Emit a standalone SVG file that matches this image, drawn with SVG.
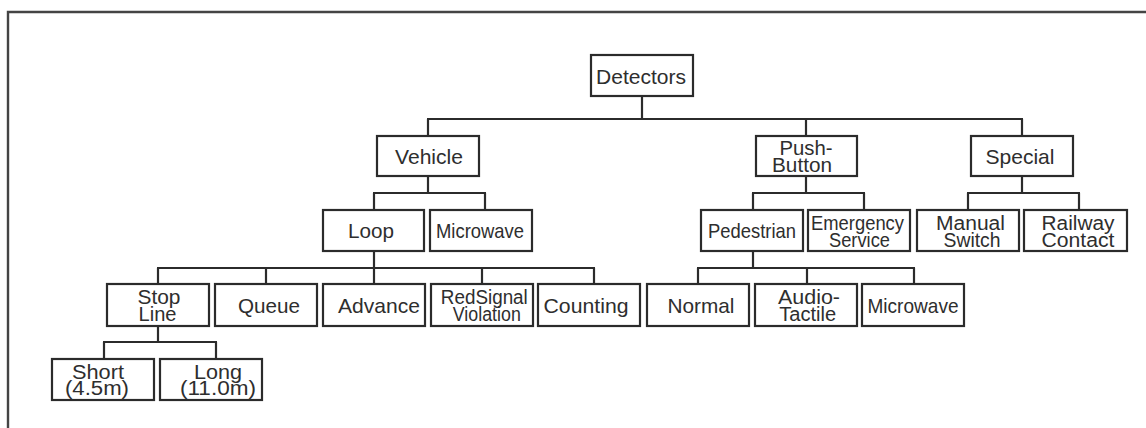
<svg xmlns="http://www.w3.org/2000/svg" width="1146" height="428" viewBox="0 0 1146 428">
<style>
.b{fill:#fff;stroke:#2b2b2b;stroke-width:2.2}
.c line{stroke:#2b2b2b;stroke-width:2.2}
text{font-family:"Liberation Sans",Arial,sans-serif;font-size:21px;fill:#2e2e2e;text-anchor:middle}
text.t{font-size:20px}
</style>
<rect width="1146" height="428" fill="#fff"/>
<path d="M8 428 V12 H1146" fill="none" stroke="#444" stroke-width="2.4"/>
<g id="connectors" class="c">
<line x1="642" y1="96" x2="642" y2="119"/>
<line x1="427" y1="119" x2="1023" y2="119"/>
<line x1="428" y1="119" x2="428" y2="136"/>
<line x1="806" y1="119" x2="806" y2="136"/>
<line x1="1022" y1="119" x2="1022" y2="136"/>
<line x1="428" y1="176" x2="428" y2="193"/>
<line x1="373" y1="193" x2="486" y2="193"/>
<line x1="374" y1="193" x2="374" y2="210"/>
<line x1="485" y1="193" x2="485" y2="210"/>
<line x1="806" y1="176" x2="806" y2="193"/>
<line x1="752" y1="193" x2="865" y2="193"/>
<line x1="753" y1="193" x2="753" y2="210"/>
<line x1="864" y1="193" x2="864" y2="210"/>
<line x1="1022" y1="176" x2="1022" y2="193"/>
<line x1="967" y1="193" x2="1080" y2="193"/>
<line x1="968" y1="193" x2="968" y2="210"/>
<line x1="1079" y1="193" x2="1079" y2="210"/>
<line x1="374" y1="251" x2="374" y2="268"/>
<line x1="157" y1="268" x2="595" y2="268"/>
<line x1="158" y1="268" x2="158" y2="284"/>
<line x1="266" y1="268" x2="266" y2="284"/>
<line x1="374" y1="268" x2="374" y2="284"/>
<line x1="482" y1="268" x2="482" y2="284"/>
<line x1="594" y1="268" x2="594" y2="284"/>
<line x1="753" y1="251" x2="753" y2="268"/>
<line x1="697" y1="268" x2="915" y2="268"/>
<line x1="698" y1="268" x2="698" y2="284"/>
<line x1="807" y1="268" x2="807" y2="284"/>
<line x1="914" y1="268" x2="914" y2="284"/>
<line x1="158" y1="326" x2="158" y2="342"/>
<line x1="103" y1="342" x2="217" y2="342"/>
<line x1="104" y1="342" x2="104" y2="359"/>
<line x1="216" y1="342" x2="216" y2="359"/>
</g>
<g id="detectors"><rect class="b" x="591" y="55" width="102" height="41"/><text x="641" y="84" textLength="90" lengthAdjust="spacingAndGlyphs">Detectors</text></g>
<g id="vehicle"><rect class="b" x="377" y="136" width="102" height="40"/><text x="429" y="163.5" textLength="68" lengthAdjust="spacingAndGlyphs">Vehicle</text></g>
<g id="push-button"><rect class="b" x="756" y="136" width="101" height="40"/><text class="t" x="806" y="155" textLength="53" lengthAdjust="spacingAndGlyphs">Push-</text><text class="t" x="802" y="172" textLength="60" lengthAdjust="spacingAndGlyphs">Button</text></g>
<g id="special"><rect class="b" x="971" y="136" width="102" height="40"/><text x="1020" y="163.5" textLength="69" lengthAdjust="spacingAndGlyphs">Special</text></g>
<g id="loop"><rect class="b" x="323" y="210" width="101" height="41"/><text x="371" y="238" textLength="46" lengthAdjust="spacingAndGlyphs">Loop</text></g>
<g id="microwave-vehicle"><rect class="b" x="430" y="210" width="102" height="41"/><text x="480" y="238" textLength="88" lengthAdjust="spacingAndGlyphs">Microwave</text></g>
<g id="pedestrian"><rect class="b" x="701" y="210" width="102" height="41"/><text x="752" y="238" textLength="88" lengthAdjust="spacingAndGlyphs">Pedestrian</text></g>
<g id="emergency"><rect class="b" x="808" y="210" width="102" height="41"/><text class="t" x="857.5" y="229.5" textLength="93" lengthAdjust="spacingAndGlyphs">Emergency</text><text class="t" x="859.5" y="246.5" textLength="61" lengthAdjust="spacingAndGlyphs">Service</text></g>
<g id="manual-switch"><rect class="b" x="917" y="210" width="102" height="41"/><text class="t" x="970.5" y="229.5" textLength="69" lengthAdjust="spacingAndGlyphs">Manual</text><text class="t" x="972" y="246.5" textLength="57" lengthAdjust="spacingAndGlyphs">Switch</text></g>
<g id="railway-contact"><rect class="b" x="1024" y="210" width="103" height="41"/><text class="t" x="1078" y="229.5" textLength="73" lengthAdjust="spacingAndGlyphs">Railway</text><text class="t" x="1078" y="246.5" textLength="73" lengthAdjust="spacingAndGlyphs">Contact</text></g>
<g id="stop-line"><rect class="b" x="107" y="284" width="102" height="42"/><text class="t" x="159" y="304" textLength="43" lengthAdjust="spacingAndGlyphs">Stop</text><text class="t" x="157.5" y="321" textLength="38" lengthAdjust="spacingAndGlyphs">Line</text></g>
<g id="queue"><rect class="b" x="215" y="284" width="102" height="42"/><text x="269" y="312.5" textLength="62" lengthAdjust="spacingAndGlyphs">Queue</text></g>
<g id="advance"><rect class="b" x="323" y="284" width="102" height="42"/><text x="379" y="312.5" textLength="82" lengthAdjust="spacingAndGlyphs">Advance</text></g>
<g id="red-signal"><rect class="b" x="431" y="284" width="102" height="42"/><text class="t" x="484.3" y="304" textLength="87" lengthAdjust="spacingAndGlyphs">RedSignal</text><text class="t" x="486.8" y="321" textLength="68" lengthAdjust="spacingAndGlyphs">Violation</text></g>
<g id="counting"><rect class="b" x="538" y="284" width="102" height="42"/><text x="586" y="312.5" textLength="85" lengthAdjust="spacingAndGlyphs">Counting</text></g>
<g id="normal"><rect class="b" x="647" y="284" width="102" height="42"/><text x="701" y="312.5" textLength="67" lengthAdjust="spacingAndGlyphs">Normal</text></g>
<g id="audio-tactile"><rect class="b" x="755" y="284" width="102" height="42"/><text class="t" x="809" y="304" textLength="62" lengthAdjust="spacingAndGlyphs">Audio-</text><text class="t" x="807.7" y="321" textLength="57" lengthAdjust="spacingAndGlyphs">Tactile</text></g>
<g id="microwave-ped"><rect class="b" x="862" y="284" width="102" height="42"/><text x="913" y="312.5" textLength="91" lengthAdjust="spacingAndGlyphs">Microwave</text></g>
<g id="short"><rect class="b" x="52" y="359" width="102" height="41"/><text class="t" x="98" y="378.5" textLength="52" lengthAdjust="spacingAndGlyphs">Short</text><text class="t" x="97" y="395" textLength="64" lengthAdjust="spacingAndGlyphs">(4.5m)</text></g>
<g id="long"><rect class="b" x="160" y="359" width="102" height="41"/><text class="t" x="218" y="378.5" textLength="48" lengthAdjust="spacingAndGlyphs">Long</text><text class="t" x="218" y="395" textLength="76" lengthAdjust="spacingAndGlyphs">(11.0m)</text></g>
</svg>
